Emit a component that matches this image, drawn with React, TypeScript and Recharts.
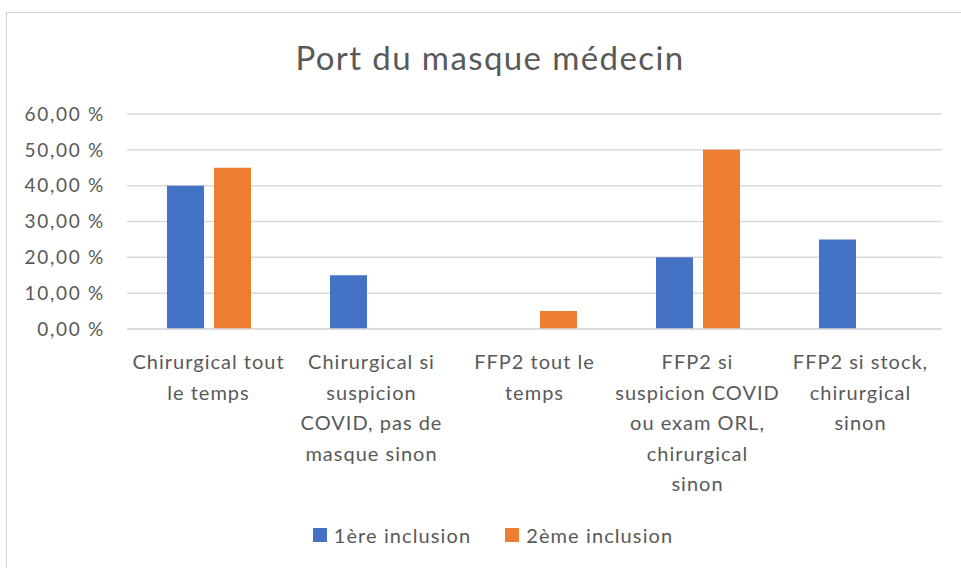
import React from 'react';
import { BarChart, Bar, XAxis, YAxis, CartesianGrid } from 'recharts';

// categories (line breaks as in the original chart)
const categories = [
  'Chirurgical tout\nle temps',
  'Chirurgical si\nsuspicion\nCOVID, pas de\nmasque sinon',
  'FFP2 tout le\ntemps',
  'FFP2 si\nsuspicion COVID\nou exam ORL,\nchirurgical\nsinon',
  'FFP2 si stock,\nchirurgical\nsinon',
];

const inclusion1 = [40, 15, 0, 20, 25];
const inclusion2 = [45, 0, 5, 50, 0];

const yTicks = [0, 10, 20, 30, 40, 50, 60];

const seriesNames = ['1ère inclusion', '2ème inclusion'];
const seriesColors = ['#4472C4', '#ED7D31'];

const TEXT = '#595959';

const chartData = categories.map((name, i) => ({
  name,
  first: inclusion1[i],
  second: inclusion2[i],
}));

const CategoryTick = (props: any) => {
  const { x, y, payload } = props;
  const lines = String(payload.value).split('\n');
  return (
    <text x={x} y={y} textAnchor="middle" fill={TEXT} fontSize={20} letterSpacing={1}>
      {lines.map((line: string, i: number) => (
        <tspan key={i} x={x} dy={i === 0 ? 40 : 30.5}>
          {line}
        </tspan>
      ))}
    </text>
  );
};

const App = () => {
  return (
    <div
      style={{
        position: 'absolute',
        left: 0,
        top: 0,
        width: 961,
        height: 568,
        background: '#fff',
        fontFamily: 'Lato, sans-serif',
        overflow: 'hidden',
      }}
    >
      {/* chart frame */}
      <div
        style={{
          position: 'absolute',
          left: 6,
          top: 12,
          right: -2,
          bottom: -2,
          borderTop: '1.5px solid #D0D0D0',
          borderLeft: '1.5px solid #D0D0D0',
        }}
      />
      <div
        style={{
          position: 'absolute',
          left: 0,
          width: 980,
          top: 37,
          textAlign: 'center',
          fontSize: 33,
          color: TEXT,
          letterSpacing: 1.4,
        }}
      >
        Port du masque médecin
      </div>
      <div style={{ position: 'absolute', left: 0, top: 0 }}>
        <BarChart
          width={961}
          height={568}
          data={chartData}
          margin={{ top: 114, right: 19, bottom: 59, left: 0 }}
          barSize={37}
          barGap={10}
        >
          <CartesianGrid vertical={false} stroke="#D9D9D9" strokeWidth={1.5} />
          <XAxis
            dataKey="name"
            interval={0}
            tickLine={false}
            tickSize={0}
            tickMargin={0}
            axisLine={{ stroke: '#D9D9D9', strokeWidth: 1.5 }}
            height={180}
            tick={<CategoryTick />}
          />
          <YAxis
            width={127}
            domain={[0, 60]}
            ticks={yTicks}
            axisLine={false}
            tickLine={false}
            tickSize={0}
            tickMargin={22}
            tick={{ fill: TEXT, fontSize: 19, letterSpacing: 1.7 }}
            tickFormatter={(v: number) => v.toFixed(2).replace('.', ',') + ' %'}
          />
          <Bar dataKey="first" name={seriesNames[0]} fill={seriesColors[0]} isAnimationActive={false} />
          <Bar dataKey="second" name={seriesNames[1]} fill={seriesColors[1]} isAnimationActive={false} />
        </BarChart>
      </div>
      {/* legend */}
      <div
        style={{
          position: 'absolute',
          left: 0,
          width: 986,
          top: 523,
          display: 'flex',
          justifyContent: 'center',
          gap: 34,
          fontSize: 20,
          color: TEXT,
          letterSpacing: 1.1,
        }}
      >
        {seriesNames.map((n, i) => (
          <div key={n} style={{ display: 'flex', alignItems: 'center', gap: 7 }}>
            <span style={{ width: 14, height: 14, background: seriesColors[i], display: 'inline-block' }} />
            <span>{n}</span>
          </div>
        ))}
      </div>
    </div>
  );
};

export default App;
